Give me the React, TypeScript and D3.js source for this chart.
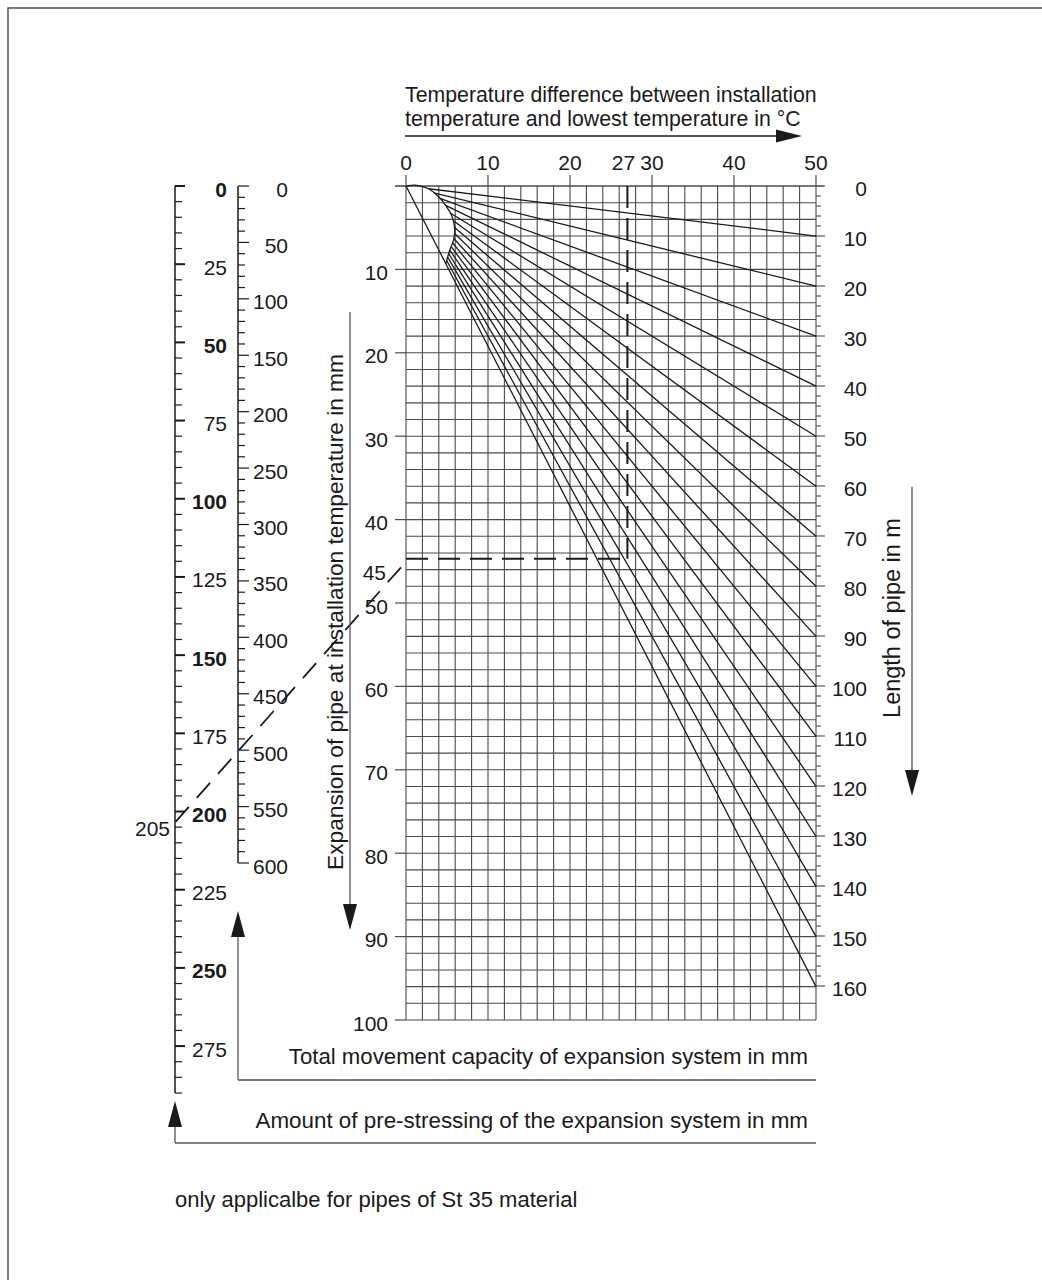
import React from "react";
import * as d3 from "d3";

// ---- data ----
const tempLabels = [0, 10, 20, 27, 30, 40, 50];
const tempMajorTicks = [0, 10, 20, 30, 40, 50];
const expansionLabels = [10, 20, 30, 40, 50, 60, 70, 80, 90, 100];
const expansionMajorTicks = [0, 10, 20, 30, 40, 50, 60, 70, 80, 90, 100];
const pipeLengths = [10, 20, 30, 40, 50, 60, 70, 80, 90, 100, 110, 120, 130, 140, 150, 160];
const expansionAt50 = [6, 12, 18, 24, 30, 36, 42, 48, 54, 60, 66, 72, 78, 84, 90, 96];
const lengthLabels = [0, 10, 20, 30, 40, 50, 60, 70, 80, 90, 100, 110, 120, 130, 140, 150, 160];
// envelope curve near origin (temperature °C, expansion mm)
const envelopeT = [0, 1.1, 1.7, 2.7, 3.9, 4.9, 5.6, 5.9, 5.9, 5.7, 5.3, 4.85];
const envelopeE = [0, -0.1, 0, 0.3, 1.2, 2.4, 3.6, 4.8, 6.0, 6.8, 7.8, 9.3];
const prestressLabels = [0, 25, 50, 75, 100, 125, 150, 175, 200, 225, 250, 275];
const prestressBold = [0, 50, 100, 150, 200, 250];
const movementLabels = [0, 50, 100, 150, 200, 250, 300, 350, 400, 450, 500, 550, 600];
const exampleTemp = 27;
const exampleExpansion = 44.7;
const exampleExpansionLabel = "45";
const examplePrestressLabel = "205";
const examplePrestressTarget = 203.5;

const FONT = "'Liberation Sans', Arial, Helvetica, sans-serif";

export default function App() {
  const x = d3.scaleLinear().domain([0, 50]).range([406, 816]);
  const y = d3.scaleLinear().domain([0, 100]).range([186, 1020]);
  const yLen = d3.scaleLinear().domain([0, 160]).range([186, 986]);
  const yPre = d3.scaleLinear().domain([0, 290]).range([186, 1093]);
  const yMove = d3.scaleLinear().domain([0, 600]).range([186, 863]);

  const outerX = 175;
  const midX = 238;
  const gridColor = "#4a4a4a";
  const ink = "#1a1a1a";
  const LBL = 21;

  const vGrid = d3.range(0, 51, 2);
  const hGrid = d3.range(0, 101, 2);

  const env = envelopeT.map((t, i) => [t, envelopeE[i]] as [number, number]);
  const envPath = d3
    .line<[number, number]>()
    .x((d) => x(d[0]))
    .y((d) => y(d[1]))
    .curve(d3.curveCatmullRom.alpha(0.5))(env) as string;

  const startOf = (k: number): [number, number] => {
    for (let i = 1; i < env.length - 1; i++) {
      const a = env[i], b = env[i + 1];
      const fa = a[1] - k * a[0];
      const fb = b[1] - k * b[0];
      if (fa <= 0 && fb >= 0) {
        const t = fa === fb ? 0 : fa / (fa - fb);
        return [a[0] + t * (b[0] - a[0]), a[1] + t * (b[1] - a[1])];
      }
    }
    return [0, 0];
  };

  const lines = pipeLengths.map((L, i) => {
    const k = expansionAt50[i] / 50;
    const s = L === 160 ? ([0, 0] as [number, number]) : startOf(k);
    return { L, x1: x(s[0]), y1: y(s[1]), x2: x(50), y2: y(expansionAt50[i]) };
  });

  const diagStart: [number, number] = [401, y(exampleExpansion) + 8.5];
  const diagEnd: [number, number] = [outerX, yPre(examplePrestressTarget)];

  const upArrow = (cx: number, tip: number, len = 26, w = 7) =>
    `M${cx},${tip} L${cx - w},${tip + len} L${cx + w},${tip + len} Z`;
  const downArrow = (cx: number, tip: number, len = 26, w = 7) =>
    `M${cx},${tip} L${cx - w},${tip - len} L${cx + w},${tip - len} Z`;

  return (
    <svg
      width={1042}
      height={1280}
      style={{ position: "absolute", left: 0, top: 0, background: "#fff" }}
      fontFamily={FONT}
    >
      <rect x={0} y={0} width={1042} height={1280} fill="#fff" />
      {/* frame */}
      <rect x={8} y={8} width={1100} height={1400} fill="none" stroke="#555" strokeWidth={1.5} />

      {/* title */}
      <text x={405} y={102} fontSize={21.3} fill={ink}>
        Temperature difference between installation
      </text>
      <text x={405} y={126} fontSize={21.3} fill={ink}>
        temperature and lowest temperature in °C
      </text>
      <line x1={405} y1={136} x2={778} y2={136} stroke={ink} strokeWidth={1.3} />
      <path d={`M802,136 L776,129.5 L776,142.5 Z`} fill={ink} />

      {/* grid */}
      {vGrid.map((t) => (
        <line key={"v" + t} x1={x(t)} x2={x(t)} y1={y(0)} y2={y(100)} stroke={gridColor} strokeWidth={1.1} />
      ))}
      {hGrid.map((e) => (
        <line key={"h" + e} x1={x(0)} x2={x(50)} y1={y(e)} y2={y(e)} stroke={gridColor} strokeWidth={1.1} />
      ))}
      {/* top ticks */}
      {tempMajorTicks.map((t) => (
        <line key={"tt" + t} x1={x(t)} x2={x(t)} y1={175} y2={y(0)} stroke={gridColor} strokeWidth={1.2} />
      ))}
      <line x1={395} x2={824} y1={y(0)} y2={y(0)} stroke={gridColor} strokeWidth={1.2} />
      {tempLabels.map((t) => (
        <text
          key={"tl" + t}
          x={t === exampleTemp ? x(t) - 4 : x(t)}
          y={170}
          fontSize={LBL}
          textAnchor="middle"
          fill={ink}
        >
          {t}
        </text>
      ))}
      {/* left expansion ticks */}
      {expansionMajorTicks.map((e) => (
        <line key={"el" + e} x1={395} x2={x(0)} y1={y(e)} y2={y(e)} stroke={gridColor} strokeWidth={1.2} />
      ))}
      {expansionLabels.map((e) => (
        <text key={"ex" + e} x={388} y={y(e) + 3} fontSize={LBL} textAnchor="end" dominantBaseline="central" fill={ink}>
          {e}
        </text>
      ))}
      <text x={386} y={y(exampleExpansion) + 14} fontSize={LBL} textAnchor="end" dominantBaseline="central" fill={ink}>
        {exampleExpansionLabel}
      </text>

      {/* right length axis */}
      {d3.range(0, 161, 2).map((l) => (
        <line
          key={"lt" + l}
          x1={x(50)}
          x2={l % 10 === 0 ? 825 : 821}
          y1={yLen(l)}
          y2={yLen(l)}
          stroke={gridColor}
          strokeWidth={1.1}
        />
      ))}
      {lengthLabels.map((l) => (
        <text key={"ll" + l} x={867} y={yLen(l) + 2} fontSize={LBL} textAnchor="end" dominantBaseline="central" fill={ink}>
          {l}
        </text>
      ))}

      {/* fan lines */}
      <path d={envPath} fill="none" stroke={ink} strokeWidth={1.3} />
      {lines.map((l) => (
        <line key={"fl" + l.L} x1={l.x1} y1={l.y1} x2={l.x2} y2={l.y2} stroke={ink} strokeWidth={1.3} />
      ))}

      {/* example dashed lines */}
      <line
        x1={x(exampleTemp)}
        x2={x(exampleTemp)}
        y1={y(0)}
        y2={y(exampleExpansion)}
        stroke={ink}
        strokeWidth={2}
        strokeDasharray="22,10"
      />
      <line
        x1={x(0)}
        x2={x(exampleTemp)}
        y1={y(exampleExpansion)}
        y2={y(exampleExpansion)}
        stroke={ink}
        strokeWidth={2}
        strokeDasharray="22,10"
      />
      <line
        x1={diagStart[0]}
        y1={diagStart[1]}
        x2={diagEnd[0]}
        y2={diagEnd[1]}
        stroke={ink}
        strokeWidth={1.8}
        strokeDasharray="20,12"
      />

      {/* left rotated label with arrow */}
      <text transform={`translate(343, 612) rotate(-90)`} fontSize={22.7} textAnchor="middle" fill={ink}>
        Expansion of pipe at installation temperature in mm
      </text>
      <line x1={350} x2={350} y1={312} y2={906} stroke="#555" strokeWidth={1.3} />
      <path d={downArrow(350, 930)} fill={ink} />

      {/* right rotated label with arrow */}
      <text transform={`translate(900, 618) rotate(-90)`} fontSize={23.5} textAnchor="middle" fill={ink}>
        Length of pipe in m
      </text>
      <line x1={912} x2={912} y1={487} y2={772} stroke="#555" strokeWidth={1.3} />
      <path d={downArrow(912, 796)} fill={ink} />

      {/* outer prestress scale */}
      <line x1={outerX} x2={outerX} y1={yPre(0)} y2={yPre(290)} stroke={ink} strokeWidth={1.5} />
      {d3.range(0, 291, 5).map((p) => (
        <line
          key={"pt" + p}
          x1={outerX}
          x2={p % 25 === 0 ? outerX + 10 : outerX + 7}
          y1={yPre(p)}
          y2={yPre(p)}
          stroke={ink}
          strokeWidth={p % 25 === 0 ? 2 : 1.2}
        />
      ))}
      {prestressLabels.map((p) => (
        <text
          key={"pl" + p}
          x={227}
          y={yPre(p) + 3}
          fontSize={LBL}
          fontWeight={prestressBold.includes(p) ? "bold" : "normal"}
          textAnchor="end"
          dominantBaseline="central"
          fill={ink}
        >
          {p}
        </text>
      ))}
      <text x={170} y={828} fontSize={LBL} textAnchor="end" dominantBaseline="central" fill={ink}>
        {examplePrestressLabel}
      </text>

      {/* middle movement scale */}
      <line x1={midX} x2={midX} y1={yMove(0)} y2={yMove(600)} stroke={ink} strokeWidth={1.5} />
      {d3.range(0, 601, 10).map((m) => (
        <line
          key={"mt" + m}
          x1={midX}
          x2={m % 50 === 0 ? midX + 11 : midX + 7}
          y1={yMove(m)}
          y2={yMove(m)}
          stroke={ink}
          strokeWidth={1.2}
        />
      ))}
      {movementLabels.map((m) => (
        <text key={"ml" + m} x={288} y={yMove(m) + 3} fontSize={LBL} textAnchor="end" dominantBaseline="central" fill={ink}>
          {m}
        </text>
      ))}

      {/* bottom arrows and labels */}
      <line x1={midX} x2={midX} y1={1080} y2={936} stroke="#555" strokeWidth={1.3} />
      <line x1={midX} x2={816} y1={1080} y2={1080} stroke="#555" strokeWidth={1.3} />
      <path d={upArrow(midX, 911)} fill={ink} />
      <text x={808} y={1064} fontSize={22.2} textAnchor="end" fill={ink}>
        Total movement capacity of expansion system in mm
      </text>

      <line x1={outerX} x2={outerX} y1={1143} y2={1126} stroke="#555" strokeWidth={1.3} />
      <line x1={outerX} x2={816} y1={1143} y2={1143} stroke="#555" strokeWidth={1.3} />
      <path d={upArrow(outerX, 1101)} fill={ink} />
      <text x={808} y={1128} fontSize={22.4} textAnchor="end" fill={ink}>
        Amount of pre-stressing of the expansion system in mm
      </text>

      <text x={175} y={1207} fontSize={22} fill={ink}>
        only applicalbe for pipes of St 35 material
      </text>
    </svg>
  );
}
